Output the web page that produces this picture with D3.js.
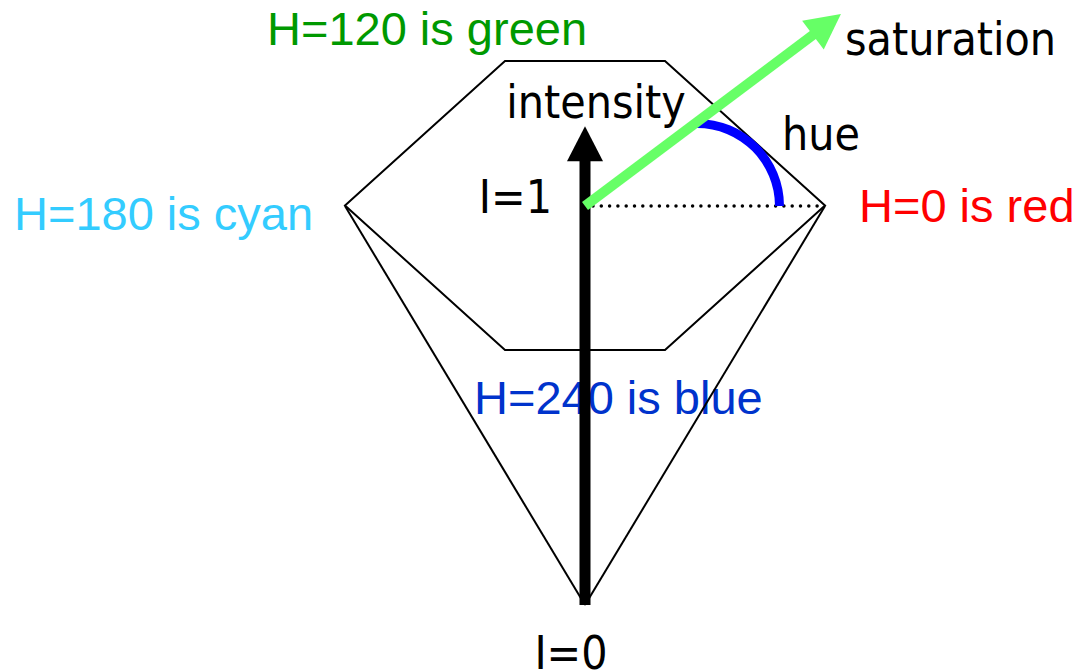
<!DOCTYPE html>
<html>
<head>
<meta charset="utf-8">
<script src="https://cdn.jsdelivr.net/npm/d3@7"></script>
<style>
  body { margin: 0; background: #fff; }
  .hue-label { font-family: "Liberation Sans", Arial, sans-serif; font-size: 47px; }
  .axis-label { font-family: "DejaVu Sans", sans-serif; font-stretch: condensed; font-size: 46px; fill: #000; }
</style>
</head>
<body>
<div class="chartHolder"></div>
<script>
// hexagon of the I=1 plane: u = across (-1..1), v = depth (back +1, front -1)
var hexU = [1, 1 / 3, -1 / 3, -1, -1 / 3, 1 / 3];
var hexV = [0, 1, 1, 0, -1, -1];

// the two silhouette edges running down to black (I=0)
var coneU = [-1, 1];

// hue labels
var hueNames = ["H=0 is red", "H=120 is green", "H=180 is cyan", "H=240 is blue"];
var hueColors = ["#ff0000", "#009900", "#33ccff", "#0033cc"];

// intensity axis
var intensityTop = 1.2;
var intensityTicks = ["I=0", "I=1"];

// saturation arrow: length along the plane (in u units) and its angle in degrees
var satLength = 1.333;
var satAngle = 36.87;

var svgW = 1079,
    svgH = 671;

var svg = d3.select(".chartHolder").append("svg").attr("width", svgW).attr("height", svgH);

var xScale = d3.scaleLinear().domain([-1, 1]).range([345, 825]);
var yScale = d3.scaleLinear().domain([0, 1]).range([605, 206]);
var depthScale = d3.scaleLinear().domain([-1, 1]).range([144, -145]);

var cx = xScale(0),
    cy = yScale(1);
var unit = xScale(1) - xScale(0);

// colored hue labels (drawn first, lines go over them)
var hueLabels = svg.append("g").attr("class", "hue-label");
hueLabels.append("text").attr("x", 859).attr("y", 222).attr("fill", hueColors[0]).text(hueNames[0]);
hueLabels.append("text").attr("x", 267).attr("y", 45).attr("fill", hueColors[1]).text(hueNames[1]);
hueLabels.append("text").attr("x", 14).attr("y", 230).attr("fill", hueColors[2]).text(hueNames[2]);
hueLabels.append("text").attr("x", 474).attr("y", 414).attr("fill", hueColors[3]).text(hueNames[3]);

// hexagon
var hexPts = hexU.map(function (u, i) {
  return [xScale(u), cy + depthScale(hexV[i])];
});
svg.append("polygon")
  .attr("points", hexPts.map(function (p) { return p.join(","); }).join(" "))
  .attr("fill", "none").attr("stroke", "#000").attr("stroke-width", 2);

// cone edges to the apex
svg.selectAll(".cone").data(coneU).enter().append("line")
  .attr("class", "cone")
  .attr("x1", function (d) { return xScale(d); })
  .attr("y1", cy)
  .attr("x2", cx)
  .attr("y2", yScale(0))
  .attr("stroke", "#000").attr("stroke-width", 2);

// dotted radius to red
svg.append("line")
  .attr("x1", cx + 8).attr("y1", cy)
  .attr("x2", xScale(1)).attr("y2", cy)
  .attr("stroke", "#000").attr("stroke-width", 3.5)
  .attr("stroke-linecap", "round")
  .attr("stroke-dasharray", "0,8.3");

// hue arc
var arc = d3.arc().innerRadius(78).outerRadius(87).startAngle(0).endAngle(Math.PI / 2);
svg.append("path")
  .attr("d", arc())
  .attr("transform", "translate(" + (cx + 112) + "," + cy + ")")
  .attr("fill", "#0000ff");

function arrow(x1, y1, x2, y2, width, color) {
  var dx = x2 - x1, dy = y2 - y1;
  var len = Math.sqrt(dx * dx + dy * dy);
  var ux = dx / len, uy = dy / len;
  var headL = 35, headW = 18;
  var bx = x2 - ux * headL, by = y2 - uy * headL;
  svg.append("line")
    .attr("x1", x1).attr("y1", y1).attr("x2", bx + ux * 2).attr("y2", by + uy * 2)
    .attr("stroke", color).attr("stroke-width", width);
  svg.append("polygon")
    .attr("points", [
      [x2, y2],
      [bx - uy * headW, by + ux * headW],
      [bx + uy * headW, by - ux * headW]
    ].map(function (p) { return p.join(","); }).join(" "))
    .attr("fill", color);
}

// intensity arrow
arrow(cx, yScale(0), cx, yScale(intensityTop), 11, "#000");

// saturation arrow
var a = satAngle * Math.PI / 180;
arrow(cx, cy, cx + Math.cos(a) * satLength * unit, cy - Math.sin(a) * satLength * unit, 10, "#66ff66");

// black labels
var labels = svg.append("g").attr("class", "axis-label");
labels.append("text").attr("x", 596).attr("y", 118).attr("text-anchor", "middle").text("intensity");
labels.append("text").attr("x", 782).attr("y", 150).text("hue");
labels.append("text").attr("x", 845).attr("y", 55).text("saturation");
labels.append("text").attr("x", 552).attr("y", 213).attr("text-anchor", "end").text(intensityTicks[1]);
labels.append("text").attr("x", 571).attr("y", 669).attr("text-anchor", "middle").text(intensityTicks[0]);
</script>
</body>
</html>
